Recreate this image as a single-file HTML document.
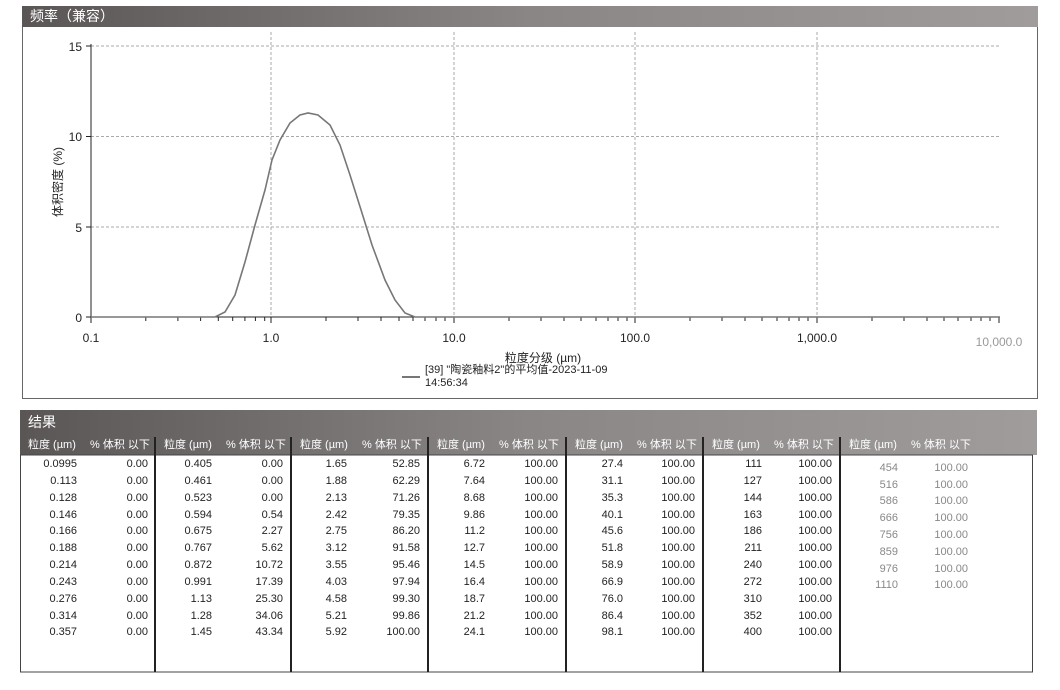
<!DOCTYPE html>
<html><head><meta charset="utf-8"><style>
body{margin:0;background:#fff;width:1060px;height:690px;overflow:hidden}
svg{display:block;font-family:"Liberation Sans","Noto Sans CJK SC",sans-serif}
.t{font-size:11px;fill:#222;text-anchor:end}
.g{font-size:11px;fill:#888;text-anchor:end}
.h{font-size:11px;fill:#fff}
</style></head><body>
<svg width="1060" height="690" viewBox="0 0 1060 690">
<defs><linearGradient id="hb" x1="0" x2="1"><stop offset="0" stop-color="#5a5656"/><stop offset="0.5" stop-color="#8a8686"/><stop offset="1" stop-color="#a09c9c"/></linearGradient></defs>
<!-- chart frame -->
<rect x="22.5" y="6.5" width="1015" height="392" fill="#fff" stroke="#666"/>
<rect x="22" y="6" width="1016" height="21" fill="url(#hb)"/>
<text x="30" y="21" font-size="14" fill="#fff">频率（兼容）</text>
<!-- grid -->
<g stroke="#aaa" stroke-dasharray="3,2" stroke-width="1">
<line x1="91" y1="46" x2="1000" y2="46"/>
<line x1="91" y1="136.5" x2="1000" y2="136.5"/>
<line x1="91" y1="227" x2="1000" y2="227"/>
<line x1="271" y1="32" x2="271" y2="317"/>
<line x1="454" y1="32" x2="454" y2="317"/>
<line x1="635" y1="32" x2="635" y2="317"/>
<line x1="817" y1="32" x2="817" y2="317"/>
</g>
<!-- axes -->
<line x1="91" y1="44" x2="91" y2="318" stroke="#222"/>
<line x1="91" y1="317" x2="1000" y2="317" stroke="#222"/>
<g stroke="#222">
<line x1="86" y1="46" x2="91" y2="46"/><line x1="86" y1="136.5" x2="91" y2="136.5"/><line x1="86" y1="227" x2="91" y2="227"/><line x1="86" y1="317" x2="91" y2="317"/>
</g>
<g font-size="12" fill="#222" text-anchor="end">
<text x="82" y="51">15</text><text x="82" y="141">10</text><text x="82" y="232">5</text><text x="82" y="322">0</text>
</g>
<path stroke="#222" fill="none" d="M91 317v6M145.8 317v4M177.9 317v4M200.6 317v4M218.3 317v4M232.7 317v4M244.9 317v4M255.4 317v4M264.7 317v4M271 317v6M326 317v4M358 317v4M381 317v4M399 317v4M413 317v4M425 317v4M436 317v4M445 317v4M454 317v6M509 317v4M541 317v4M564 317v4M581 317v4M596 317v4M608 317v4M618 317v4M627 317v4M635 317v6M690 317v4M722 317v4M745 317v4M762 317v4M777 317v4M789 317v4M799 317v4M808 317v4M817 317v6M872 317v4M904 317v4M927 317v4M944 317v4M958 317v4M971 317v4M981 317v4M990 317v4M999 317v6"/>
<g font-size="12" fill="#222" text-anchor="middle">
<text x="91" y="342">0.1</text><text x="271" y="342">1.0</text><text x="454" y="342">10.0</text><text x="635" y="342">100.0</text><text x="817" y="342">1,000.0</text><text x="999" y="346" fill="#999">10,000.0</text>
</g>
<text x="543" y="362" font-size="12" fill="#222" text-anchor="middle">粒度分级 (µm)</text>
<text transform="translate(62,182) rotate(-90)" font-size="12" fill="#222" text-anchor="middle">体积密度 (%)</text>
<polyline fill="none" stroke="#777" stroke-width="1.6" points="91,317 215,317 225,312 235,295 245,262 255,225 265,190 272,160 280,140 290,123 300,115 308,113 318,115 330,125 340,145 350,175 362,213 372,245 385,280 395,300 405,313 415,317 1000,317"/>
<line x1="402" y1="377" x2="420" y2="377" stroke="#777" stroke-width="2"/>
<text x="425" y="373" font-size="11" fill="#222">[39] "陶瓷釉料2"的平均值-2023-11-09</text>
<text x="425" y="386" font-size="11" fill="#222">14:56:34</text>

<!-- table -->
<rect x="20" y="410" width="1017" height="45" fill="url(#hb)"/>
<text x="28" y="427" font-size="14" fill="#fff">结果</text>
<rect x="20.5" y="455" width="1012" height="217" fill="#fff" stroke="#444"/>
<g stroke="#222" stroke-width="2">
<line x1="155" y1="437" x2="155" y2="672"/><line x1="291" y1="437" x2="291" y2="672"/><line x1="428" y1="437" x2="428" y2="672"/><line x1="566" y1="437" x2="566" y2="672"/><line x1="703" y1="437" x2="703" y2="672"/><line x1="840" y1="437" x2="840" y2="672"/>
</g>
<g class="h">
<text x="28" y="448">粒度 (µm)</text><text x="90" y="448">% 体积 以下</text>
<text x="164" y="448">粒度 (µm)</text><text x="226" y="448">% 体积 以下</text>
<text x="300" y="448">粒度 (µm)</text><text x="362" y="448">% 体积 以下</text>
<text x="437" y="448">粒度 (µm)</text><text x="499" y="448">% 体积 以下</text>
<text x="575" y="448">粒度 (µm)</text><text x="637" y="448">% 体积 以下</text>
<text x="712" y="448">粒度 (µm)</text><text x="774" y="448">% 体积 以下</text>
<text x="849" y="448">粒度 (µm)</text><text x="911" y="448">% 体积 以下</text>
</g>
<g class="t">
<text x="77" y="467">0.0995</text><text x="148" y="467">0.00</text>
<text x="77" y="484">0.113</text><text x="148" y="484">0.00</text>
<text x="77" y="501">0.128</text><text x="148" y="501">0.00</text>
<text x="77" y="518">0.146</text><text x="148" y="518">0.00</text>
<text x="77" y="534">0.166</text><text x="148" y="534">0.00</text>
<text x="77" y="551">0.188</text><text x="148" y="551">0.00</text>
<text x="77" y="568">0.214</text><text x="148" y="568">0.00</text>
<text x="77" y="585">0.243</text><text x="148" y="585">0.00</text>
<text x="77" y="602">0.276</text><text x="148" y="602">0.00</text>
<text x="77" y="619">0.314</text><text x="148" y="619">0.00</text>
<text x="77" y="635">0.357</text><text x="148" y="635">0.00</text>

<text x="212" y="467">0.405</text><text x="283" y="467">0.00</text>
<text x="212" y="484">0.461</text><text x="283" y="484">0.00</text>
<text x="212" y="501">0.523</text><text x="283" y="501">0.00</text>
<text x="212" y="518">0.594</text><text x="283" y="518">0.54</text>
<text x="212" y="534">0.675</text><text x="283" y="534">2.27</text>
<text x="212" y="551">0.767</text><text x="283" y="551">5.62</text>
<text x="212" y="568">0.872</text><text x="283" y="568">10.72</text>
<text x="212" y="585">0.991</text><text x="283" y="585">17.39</text>
<text x="212" y="602">1.13</text><text x="283" y="602">25.30</text>
<text x="212" y="619">1.28</text><text x="283" y="619">34.06</text>
<text x="212" y="635">1.45</text><text x="283" y="635">43.34</text>

<text x="347" y="467">1.65</text><text x="420" y="467">52.85</text>
<text x="347" y="484">1.88</text><text x="420" y="484">62.29</text>
<text x="347" y="501">2.13</text><text x="420" y="501">71.26</text>
<text x="347" y="518">2.42</text><text x="420" y="518">79.35</text>
<text x="347" y="534">2.75</text><text x="420" y="534">86.20</text>
<text x="347" y="551">3.12</text><text x="420" y="551">91.58</text>
<text x="347" y="568">3.55</text><text x="420" y="568">95.46</text>
<text x="347" y="585">4.03</text><text x="420" y="585">97.94</text>
<text x="347" y="602">4.58</text><text x="420" y="602">99.30</text>
<text x="347" y="619">5.21</text><text x="420" y="619">99.86</text>
<text x="347" y="635">5.92</text><text x="420" y="635">100.00</text>

<text x="485" y="467">6.72</text><text x="558" y="467">100.00</text>
<text x="485" y="484">7.64</text><text x="558" y="484">100.00</text>
<text x="485" y="501">8.68</text><text x="558" y="501">100.00</text>
<text x="485" y="518">9.86</text><text x="558" y="518">100.00</text>
<text x="485" y="534">11.2</text><text x="558" y="534">100.00</text>
<text x="485" y="551">12.7</text><text x="558" y="551">100.00</text>
<text x="485" y="568">14.5</text><text x="558" y="568">100.00</text>
<text x="485" y="585">16.4</text><text x="558" y="585">100.00</text>
<text x="485" y="602">18.7</text><text x="558" y="602">100.00</text>
<text x="485" y="619">21.2</text><text x="558" y="619">100.00</text>
<text x="485" y="635">24.1</text><text x="558" y="635">100.00</text>

<text x="623" y="467">27.4</text><text x="695" y="467">100.00</text>
<text x="623" y="484">31.1</text><text x="695" y="484">100.00</text>
<text x="623" y="501">35.3</text><text x="695" y="501">100.00</text>
<text x="623" y="518">40.1</text><text x="695" y="518">100.00</text>
<text x="623" y="534">45.6</text><text x="695" y="534">100.00</text>
<text x="623" y="551">51.8</text><text x="695" y="551">100.00</text>
<text x="623" y="568">58.9</text><text x="695" y="568">100.00</text>
<text x="623" y="585">66.9</text><text x="695" y="585">100.00</text>
<text x="623" y="602">76.0</text><text x="695" y="602">100.00</text>
<text x="623" y="619">86.4</text><text x="695" y="619">100.00</text>
<text x="623" y="635">98.1</text><text x="695" y="635">100.00</text>

<text x="762" y="467">111</text><text x="832" y="467">100.00</text>
<text x="762" y="484">127</text><text x="832" y="484">100.00</text>
<text x="762" y="501">144</text><text x="832" y="501">100.00</text>
<text x="762" y="518">163</text><text x="832" y="518">100.00</text>
<text x="762" y="534">186</text><text x="832" y="534">100.00</text>
<text x="762" y="551">211</text><text x="832" y="551">100.00</text>
<text x="762" y="568">240</text><text x="832" y="568">100.00</text>
<text x="762" y="585">272</text><text x="832" y="585">100.00</text>
<text x="762" y="602">310</text><text x="832" y="602">100.00</text>
<text x="762" y="619">352</text><text x="832" y="619">100.00</text>
<text x="762" y="635">400</text><text x="832" y="635">100.00</text>
</g>
<g class="g">
<text x="898" y="471">454</text><text x="968" y="471">100.00</text>
<text x="898" y="488">516</text><text x="968" y="488">100.00</text>
<text x="898" y="504">586</text><text x="968" y="504">100.00</text>
<text x="898" y="521">666</text><text x="968" y="521">100.00</text>
<text x="898" y="538">756</text><text x="968" y="538">100.00</text>
<text x="898" y="555">859</text><text x="968" y="555">100.00</text>
<text x="898" y="572">976</text><text x="968" y="572">100.00</text>
<text x="898" y="588">1110</text><text x="968" y="588">100.00</text>
</g>
</svg>
</body></html>
